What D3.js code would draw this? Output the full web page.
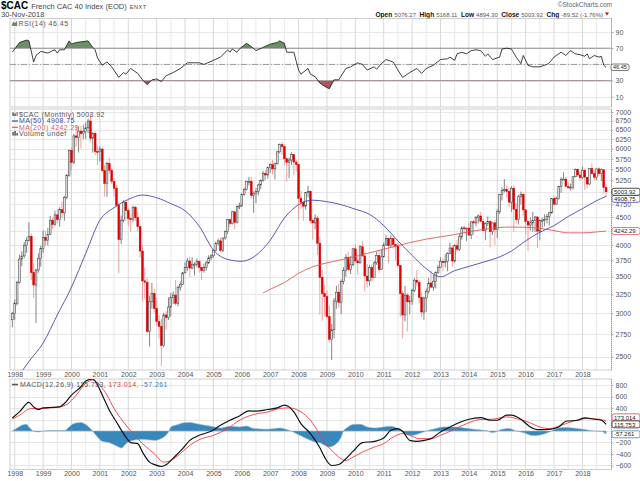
<!DOCTYPE html>
<html lang="en">
<head>
<meta charset="utf-8">
<title>$CAC French CAC 40 Index (EOD)</title>
<script src="https://cdn.jsdelivr.net/npm/d3@7/dist/d3.min.js"></script>
<style>
  body { margin: 0; background: #fff; }
  text { font-family: "Liberation Sans", Arial, sans-serif; }
  .ax .tick text { font-size: 7px; fill: #555; }
  .ax .tick line { stroke: #aaa; }
  .ax .domain { display: none; }
</style>
</head>
<body>
<svg id="chart" width="640" height="481"></svg>
<script>
// month index: 0 = Jan 1998, first bar is Dec 1997 (index -1)
var firstMonth = -1;
var firstOpen = 2920; // open of the first bar; every other bar opens at the previous close

// monthly closes, one line per year (Dec 1997, then 1998 .. Nov 2018)
var closes = [2999,
  3130,3420,3770,3820,3990,4080,4150,3560,3380,3600,3780,3943,
  4130,4080,4180,4440,4360,4540,4450,4640,4580,4890,5360,5958,
  5660,6330,6290,6460,6390,6450,6550,6740,6270,6400,5930,5926,
  5990,5470,5180,5640,5480,5230,5080,4730,4090,4440,4790,4625,
  4470,4460,4690,4490,4320,3900,3440,3420,2780,3150,3260,3064,
  2900,2840,2620,2980,2950,3080,3210,3240,3130,3350,3390,3558,
  3640,3740,3630,3690,3690,3730,3640,3590,3640,3710,3790,3821,
  3910,4030,4070,3910,4120,4230,4450,4380,4600,4400,4700,4715,
  4950,5050,5220,5230,4930,4965,5010,5150,5250,5400,5370,5542,
  5610,5510,5630,5920,6100,6050,5750,5660,5720,5850,5670,5614,
  4870,4790,4710,4990,5010,4430,4390,4480,4030,3490,3260,3218,
  2960,2690,2800,3160,3280,3140,3430,3590,3800,3610,3680,3936,
  3740,3710,3970,3820,3510,3440,3640,3490,3710,3830,3610,3805,
  4000,4110,3990,4110,4010,3980,3670,3260,2980,3240,3150,3160,
  3300,3450,3420,3210,3017,3200,3290,3410,3350,3430,3560,3641,
  3730,3720,3730,3860,3950,3740,3990,3930,4140,4300,4290,4296,
  4170,4410,4390,4490,4520,4420,4250,4380,4420,4230,4390,4273,
  4600,4950,5030,5050,5010,4790,5080,4650,4450,4900,4950,4637,
  4420,4350,4390,4430,4500,4240,4440,4440,4450,4510,4580,4862,
  4750,4860,5120,5270,5280,5120,5090,5090,5330,5500,5370,5313,
  5480,5320,5170,5520,5400,5320,5510,5400,5490,5093,5003.92];

var highs = [3020,
  3180,3440,3840,3900,4050,4130,4404,4200,3700,3620,3860,3990,
  4250,4250,4300,4520,4480,4620,4650,4690,4800,4920,5400,5975,
  6050,6380,6620,6590,6600,6640,6700,6800,6944,6430,6450,6080,
  6060,6030,5590,5680,5770,5520,5300,5150,4800,4530,4830,4800,
  4680,4500,4720,4720,4600,4330,4000,3640,3480,3230,3410,3330,
  3200,2980,2930,3010,3030,3210,3270,3290,3450,3370,3430,3570,
  3720,3790,3810,3800,3720,3780,3760,3650,3700,3740,3830,3850,
  3930,4060,4110,4130,4130,4250,4460,4470,4620,4610,4720,4780,
  4970,5090,5240,5330,5330,5010,5080,5180,5270,5460,5480,5560,
  5640,5720,5660,5940,6130,6168,6110,5770,5780,5910,5850,5720,
  5620,5020,4820,5000,5130,5030,4470,4550,4520,4140,3600,3380,
  3300,3100,2870,3200,3370,3400,3460,3640,3850,3890,3820,3950,
  4020,3780,4000,4070,3880,3690,3680,3690,3740,3890,3920,3920,
  4040,4170,4130,4170,4120,4020,4040,3680,3300,3370,3270,3230,
  3330,3480,3600,3450,3280,3220,3330,3480,3590,3530,3580,3680,
  3800,3780,3850,3880,4040,4000,4010,4080,4190,4330,4340,4300,
  4400,4420,4440,4520,4550,4600,4470,4400,4510,4440,4400,4440,
  4650,4960,5100,5280,5130,5080,5120,5140,4770,4940,5010,4980,
  4650,4440,4490,4600,4520,4520,4450,4490,4550,4560,4600,4870,
  4920,4900,5130,5320,5430,5330,5220,5180,5340,5520,5520,5440,
  5560,5500,5330,5530,5640,5480,5520,5550,5520,5500,5168.11];

var lows = [2830,
  2920,3100,3400,3660,3780,3870,4060,3450,3200,2881,3560,3650,
  3870,3980,3990,4170,4280,4330,4390,4320,4480,4430,4850,5330,
  5480,5620,6050,5900,6000,6240,6250,6400,6180,5900,5850,5600,
  5690,5430,4900,4900,5400,5170,4900,4700,3550,4020,4400,4430,
  4330,4230,4410,4420,4230,3790,3150,3180,2760,2610,3060,3010,
  2850,2700,2403,2600,2800,2920,2960,3120,3100,3090,3300,3380,
  3550,3590,3500,3610,3520,3640,3560,3450,3560,3590,3690,3750,
  3790,3900,3990,3880,3880,4090,4190,4310,4360,4270,4380,4650,
  4700,4920,5030,5140,4860,4580,4770,4930,5060,5220,5260,5290,
  5420,5380,5270,5610,5880,5850,5600,5220,5300,5600,5370,5450,
  4450,4650,4430,4640,4890,4380,4090,4270,3840,2980,2910,2960,
  2940,2650,2465,2700,3060,3070,2990,3390,3500,3580,3540,3660,
  3730,3530,3700,3810,3290,3340,3370,3430,3480,3680,3560,3600,
  3800,3990,3700,3960,3940,3750,3630,2950,2700,2900,2780,2990,
  3110,3280,3370,3130,2950,2920,3020,3260,3330,3300,3330,3540,
  3640,3580,3640,3580,3850,3650,3710,3900,3900,4090,4200,4070,
  4160,4100,4180,4330,4380,4400,4240,4080,4330,3960,4170,4000,
  4120,4560,4820,4990,4880,4690,4600,4230,4380,4360,4740,4530,
  4180,3900,4250,4230,4230,3950,4080,4300,4330,4380,4340,4560,
  4720,4750,4840,4980,5250,5110,5070,5030,5050,5320,5320,5250,
  5280,5050,5070,5150,5380,5260,5250,5340,5240,4970,4894.30];

// moving averages
var ma50Months = [0,6,12,18,24,30,36,42,48,54,60,66,72,78,84,90,96,102,108,114,120,126,132,138,144,150,156,162,168,174,180,186,192,198,204,210,216,222,228,234,240,246,250];
var ma50Values = [2250,2450,2648,2980,3350,3860,4440,4680,4845,4936,4880,4760,4620,4330,3916,3765,3735,3830,4080,4480,4740,4830,4800,4740,4650,4550,4340,4070,3830,3620,3500,3590,3655,3720,3790,3900,4070,4220,4340,4510,4660,4820,4908.75];
var ma200Months = [105,108,114,120,126,132,138,144,150,156,162,168,174,180,186,192,198,204,210,216,222,228,234,240,246,250];
var ma200Values = [3270,3320,3415,3550,3650,3710,3760,3810,3870,3930,3990,4050,4100,4140,4180,4228,4270,4305,4314,4310,4290,4250,4210,4210,4225,4242.29];

// RSI(14)
var rsiMonths = [-1,2,5,6,8,9,11,14,16,17,18,19,21,23,24,26,31,33,34,35,37,39,41,44,46,47,49,52,54,56,58,60,62,64,67,70,73,76,78,80,84,87,90,91,92,94,95,98,100,102,105,108,111,112,114,115,118,120,121,124,125,127,129,131,133,135,137,140,142,145,147,149,152,153,155,157,160,162,164,167,170,172,174,177,180,183,184,186,187,189,191,193,195,197,199,200,202,205,206,208,210,212,214,215,217,219,222,225,226,228,231,233,235,237,239,241,242,243,245,247,248,249,250];
var rsiValues = [65,77,80,79,53,61,66,64,67,68,64,68,68,79,75,77,79,71,68,58,49,53,47,34,40,38,45,39,31,25,31,32,29,36,40,45,52,52,52,50,55,59,68,65,69,65,69,76,72,67,71,75,77,79,76,65,65,43,38,45,38,35,27,23,20,31,31,45,47,52,50,43,47,44,51,56,53,43,34,40,45,39,45,49,56,57,59,55,63,65,63,67,68,67,60,63,56,59,69,70,69,59,51,61,49,47,47,50,52,59,65,61,67,63,62,60,63,57,61,59,60,49,46.45];

// MACD(12,26,9)
var macdMonths = [-1,2,6,8,10,12,15,19,21,24,28,30,33,35,37,40,43,47,49,52,54,57,59,62,64,67,71,74,78,83,87,91,95,99,102,107,111,114,116,118,121,125,129,131,134,137,140,143,147,152,156,159,162,164,167,170,173,176,180,184,188,192,197,201,204,208,210,214,218,221,226,230,233,238,241,245,248,250];
var macdValues = [227,332,497,420,374,402,409,420,479,625,770,870,905,800,625,362,157,-105,-203,-220,-367,-542,-583,-618,-588,-472,-308,-163,-75,-5,100,187,262,350,345,374,402,450,420,332,129,-45,-290,-455,-600,-583,-483,-355,-203,-180,-122,12,42,-5,-163,-180,-163,-133,-17,70,147,205,234,187,187,275,275,205,70,24,30,70,170,187,227,205,187,115.753];
var signalMonths = [-1,2,7,11,15,19,22,26,30,33,36,39,42,46,50,54,59,63,66,70,74,78,84,90,95,101,107,112,116,121,125,129,132,135,138,140,143,147,152,156,160,164,167,171,176,180,186,191,197,202,208,212,217,222,226,231,236,242,247,250];
var signalValues = [205,275,392,392,402,420,462,625,829,887,800,625,392,157,-45,-220,-395,-542,-513,-395,-250,-150,-75,42,187,287,332,392,402,332,187,-60,-250,-378,-483,-513,-455,-367,-280,-220,-105,-45,-75,-133,-133,-75,30,129,200,205,245,217,157,70,42,100,170,217,205,173.014];
var histMonths = [-1,1,3,5,6,8,10,12,16,21,23,25,28,30,33,35,37,40,44,45,47,50,54,59,63,65,66,69,71,74,78,83,87,91,95,98,101,107,112,115,117,119,122,125,127,129,131,133,135,138,139,141,143,146,149,152,156,159,162,165,168,171,174,178,181,186,190,195,200,202,206,209,212,215,219,222,226,229,232,236,241,245,248,250];
var histValues = [0,52,100,117,70,-5,-17,0,7,7,70,129,147,112,-5,-105,-180,-203,-280,-297,-220,-163,-145,-163,-105,-17,70,112,140,147,117,82,52,82,70,88,42,30,52,24,-5,-45,-105,-163,-192,-203,-250,-280,-250,-105,0,70,112,117,70,52,70,82,42,-45,-75,-45,0,42,70,70,52,24,0,-28,30,42,0,-28,-80,-70,-17,42,59,52,24,0,-5,-57.261];

// axis labels
var years = ["1998","1999","2000","2001","2002","2003","2004","2005","2006","2007","2008","2009","2010","2011","2012","2013","2014","2015","2016","2017","2018"];
var priceTicks = [2500,2750,3000,3250,3500,3750,4000,4250,4500,4750,5000,5250,5500,5750,6000,6250,6500,6750,7000];
var rsiTicks = [10,30,50,70,90];
var macdTicks = [-600,-400,-200,0,200,400,600,800];
// tick labels that sit under the value boxes
var hiddenTicks = [5000, 4250, 50, 0, 200];

var quote = {open: "5076.27", high: "5168.11", low: "4894.30", close: "5003.92", chg: "-89.52 (-1.76%)"};
var lastClose = 5003.92, lastMa50 = 4908.75, lastMa200 = 4242.29, lastRsi = 46.45;
var lastMacd = 115.753, lastSignal = 173.014, lastHist = -57.261;

var svg = d3.select("#chart");
var X0 = 10, X1 = 611.5;

var x = d3.scaleLinear().domain([-2, 252.3]).range([X0, X1]);
var yR = d3.scaleLinear().domain([-2.5, 106.6]).range([107, 18.5]);
var yP = d3.scaleLog().domain([2364, 7089]).range([370, 109]);
var yM = d3.scaleLinear().domain([-670, 905]).range([469.5, 379]);

function pairs(ms, vs) {
  return ms.map(function(m, i) { return [m, vs[i]]; });
}

// gridlines every half year, darker on the year
var gridMonths = d3.range(0, 252, 6);

function panel(id, yScale, hTicks) {
  var r = yScale.range();
  var top = r[1], bottom = r[0];
  var g = svg.append("g");
  svg.append("clipPath").attr("id", id).append("rect")
    .attr("x", X0).attr("y", top).attr("width", X1 - X0).attr("height", bottom - top);
  g.selectAll("line.h").data(hTicks).join("line").attr("class", "h")
    .attr("x1", X0).attr("x2", X1)
    .attr("y1", function(d) { return Math.round(yScale(d)) + 0.5; })
    .attr("y2", function(d) { return Math.round(yScale(d)) + 0.5; })
    .attr("stroke", "#e6e6e6").attr("stroke-width", 1);
  g.selectAll("line.v").data(gridMonths).join("line").attr("class", "v")
    .attr("x1", function(d) { return x(d); }).attr("x2", function(d) { return x(d); })
    .attr("y1", top).attr("y2", bottom)
    .attr("stroke", function(d) { return d % 12 === 0 ? "#d4d4d4" : "#e6e6e6"; })
    .attr("stroke-width", 0.9);
  g.append("rect").attr("x", X0).attr("y", top).attr("width", X1 - X0).attr("height", bottom - top)
    .attr("fill", "none").attr("stroke", "#c4c4c4").attr("stroke-width", 0.8);
  g.append("line").attr("x1", X1).attr("x2", X1).attr("y1", top).attr("y2", bottom)
    .attr("stroke", "#999").attr("stroke-dasharray", "1,1");
  // right axis
  svg.append("g").attr("class", "ax").attr("transform", "translate(" + X1 + ",0)")
    .call(d3.axisRight(yScale).tickValues(hTicks).tickSize(2).tickPadding(2)
      .tickFormat(function(d) { return hiddenTicks.indexOf(d) >= 0 ? "" : d3.format("d")(d); }));
  return g;
}

function box(y, label, color, w, fs, x0) {
  var h = fs + 1;
  svg.append("rect").attr("x", x0).attr("y", y - h / 2).attr("width", w).attr("height", h)
    .attr("rx", 2).attr("fill", "#fff").attr("stroke", color).attr("stroke-width", 0.8);
  svg.append("text").attr("x", x0 + 2).attr("y", y + fs * 0.36).attr("font-size", fs)
    .attr("fill", "#222").text(label);
}

// ---------- header ----------
var head = svg.append("text").attr("x", 1).attr("y", 9);
head.append("tspan").attr("font-size", 10).attr("font-weight", "bold").text("$CAC");
head.append("tspan").attr("font-size", 7.5).attr("fill", "#444").attr("dx", 3).text("French CAC 40 Index (EOD)");
head.append("tspan").attr("font-size", 5.5).attr("fill", "#444").attr("dx", 3).attr("letter-spacing", 0.6).text("ENXT");
svg.append("text").attr("x", 1).attr("y", 16.5).attr("font-size", 7.5).attr("fill", "#444").text("30-Nov-2018");
svg.append("text").attr("x", 612).attr("y", 7).attr("font-size", 6.5).attr("fill", "#666")
  .attr("text-anchor", "end").text("\u00A9StockCharts.com");
var q = svg.append("text").attr("x", 603).attr("y", 16.5).attr("text-anchor", "end");
[["Open", quote.open], ["High", quote.high], ["Low", quote.low], ["Close", quote.close], ["Chg", quote.chg]]
  .forEach(function(p, i) {
    q.append("tspan").attr("font-size", 6.6).attr("font-weight", "bold").attr("fill", "#111").attr("dx", i ? 3.5 : 0).text(p[0]);
    q.append("tspan").attr("font-size", 6).attr("fill", "#555").attr("dx", 2).text(p[1]);
  });
svg.append("path").attr("d", "M605,12.5 L609,12.5 L607,15.5 Z").attr("fill", "#d00");

// ---------- RSI panel ----------
panel("clipRsi", yR, rsiTicks);
svg.append("line").attr("x1", X0).attr("x2", X1).attr("y1", yR(70)).attr("y2", yR(70)).attr("stroke", "#999");
svg.append("line").attr("x1", X0).attr("x2", X1).attr("y1", yR(30)).attr("y2", yR(30)).attr("stroke", "#999");
svg.append("line").attr("x1", X0).attr("x2", X1).attr("y1", yR(50)).attr("y2", yR(50))
  .attr("stroke", "#999").attr("stroke-dasharray", "6,2,1,2");

var rsiData = pairs(rsiMonths, rsiValues);
svg.append("clipPath").attr("id", "clipHi").append("rect")
  .attr("x", X0).attr("y", 18.5).attr("width", X1 - X0).attr("height", yR(70) - 18.5);
svg.append("clipPath").attr("id", "clipLo").append("rect")
  .attr("x", X0).attr("y", yR(30)).attr("width", X1 - X0).attr("height", 107 - yR(30));
svg.append("path").datum(rsiData).attr("clip-path", "url(#clipHi)")
  .attr("fill", "#6a9163")
  .attr("d", d3.area().x(function(d) { return x(d[0]); }).y0(yR(70)).y1(function(d) { return yR(d[1]); }));
svg.append("path").datum(rsiData).attr("clip-path", "url(#clipLo)")
  .attr("fill", "#a8585c")
  .attr("d", d3.area().x(function(d) { return x(d[0]); }).y0(yR(30)).y1(function(d) { return yR(d[1]); }));
svg.append("path").datum(rsiData).attr("clip-path", "url(#clipRsi)")
  .attr("fill", "none").attr("stroke", "#111").attr("stroke-width", 0.8)
  .attr("d", d3.line().x(function(d) { return x(d[0]); }).y(function(d) { return yR(d[1]); }));

svg.append("path").attr("d", "M12,25.5 L13.5,22 L15,24 L16.5,21.5 L17,25.5 Z").attr("fill", "#6a9163").attr("stroke", "#333").attr("stroke-width", 0.4);
svg.append("text").attr("x", 18.5).attr("y", 25.5).attr("font-size", 7).attr("fill", "#555")
  .attr("letter-spacing", 0.5).text("RSI(14) " + lastRsi);

// ---------- price panel ----------
panel("clipMain", yP, priceTicks);

var bars = closes.map(function(c, i) {
  return { m: firstMonth + i, o: i ? closes[i - 1] : firstOpen, h: highs[i], l: lows[i], c: c };
});
var gMain = svg.append("g").attr("clip-path", "url(#clipMain)");

gMain.selectAll("line.wick").data(bars).join("line").attr("class", "wick")
  .attr("x1", function(d) { return x(d.m); }).attr("x2", function(d) { return x(d.m); })
  .attr("y1", function(d) { return yP(d.h); }).attr("y2", function(d) { return yP(d.l); })
  .attr("stroke", function(d) { return d.c >= d.o ? "#666" : "#ee8a8a"; })
  .attr("stroke-width", 0.8);
gMain.selectAll("rect.body").data(bars).join("rect").attr("class", "body")
  .attr("x", function(d) { return x(d.m) - 0.9; })
  .attr("width", 1.8)
  .attr("y", function(d) { return yP(Math.max(d.o, d.c)); })
  .attr("height", function(d) { return Math.max(1, Math.abs(yP(d.o) - yP(d.c))); })
  .attr("fill", function(d) { return d.c >= d.o ? "#e4e4e4" : "#dd0000"; })
  .attr("stroke", function(d) { return d.c >= d.o ? "#333" : "#dd0000"; })
  .attr("stroke-width", 0.5);

var maLine = d3.line().curve(d3.curveMonotoneX)
  .x(function(d) { return x(d[0]); }).y(function(d) { return yP(d[1]); });
gMain.append("path").datum(pairs(ma200Months, ma200Values)).attr("d", maLine)
  .attr("fill", "none").attr("stroke", "#e05a5a").attr("stroke-width", 0.9);
gMain.append("path").datum(pairs(ma50Months, ma50Values)).attr("d", maLine)
  .attr("fill", "none").attr("stroke", "#4848a8").attr("stroke-width", 0.9);

// legend
var leg = [
  ["$CAC (Monthly) " + lastClose, "#555"],
  ["MA(50) " + lastMa50, "#4848a8"],
  ["MA(200) " + lastMa200, "#e05a5a"],
  ["Volume undef", "#555"]
];
leg.forEach(function(l, i) {
  var yy = 117 + i * 6.3;
  svg.append("text").attr("x", 19).attr("y", yy).attr("font-size", 7).attr("fill", l[1])
    .attr("letter-spacing", 0.4).text(l[0]);
});
svg.append("rect").attr("x", 12.5).attr("y", 112.5).attr("width", 1.2).attr("height", 3.5).attr("fill", "#333");
svg.append("rect").attr("x", 14.5).attr("y", 113.5).attr("width", 1.2).attr("height", 2.5).attr("fill", "#333");
svg.append("rect").attr("x", 16.5).attr("y", 112).attr("width", 1.2).attr("height", 4).attr("fill", "#777");
svg.append("line").attr("x1", 12).attr("x2", 18).attr("y1", 121).attr("y2", 121).attr("stroke", "#4848a8").attr("stroke-width", 1.2);
svg.append("line").attr("x1", 12).attr("x2", 18).attr("y1", 127.3).attr("y2", 127.3).attr("stroke", "#e05a5a").attr("stroke-width", 1.2);
svg.append("rect").attr("x", 12.5).attr("y", 132).attr("width", 1.2).attr("height", 3.6).attr("fill", "#333");
svg.append("rect").attr("x", 14.5).attr("y", 131).attr("width", 1.2).attr("height", 4.6).attr("fill", "#333");
svg.append("rect").attr("x", 16.5).attr("y", 133).attr("width", 1.2).attr("height", 2.6).attr("fill", "#333");

// year labels (between price and MACD, and at the bottom)
var yearMonths = years.map(function(y, i) { return i * 12; });
[378, 477.5].forEach(function(yy) {
  svg.append("g").attr("class", "ax").attr("transform", "translate(0," + (yy - 7) + ")")
    .call(d3.axisBottom(x).tickValues(yearMonths).tickSize(0).tickPadding(1)
      .tickFormat(function(d, i) { return years[i]; }));
});

// ---------- MACD panel ----------
panel("clipMacd", yM, macdTicks);
var gM = svg.append("g").attr("clip-path", "url(#clipMacd)");
gM.append("path").datum(pairs(histMonths, histValues))
  .attr("fill", "#3789bd").attr("stroke", "#9fb4c4").attr("stroke-width", 0.6)
  .attr("d", d3.area().curve(d3.curveMonotoneX)
    .x(function(d) { return x(d[0]); }).y0(yM(0)).y1(function(d) { return yM(d[1]); }));
var mLine = d3.line().curve(d3.curveMonotoneX)
  .x(function(d) { return x(d[0]); }).y(function(d) { return yM(d[1]); });
gM.append("path").datum(pairs(signalMonths, signalValues)).attr("d", mLine)
  .attr("fill", "none").attr("stroke", "#f03c3c").attr("stroke-width", 0.9);
gM.append("path").datum(pairs(macdMonths, macdValues)).attr("d", mLine)
  .attr("fill", "none").attr("stroke", "#111").attr("stroke-width", 1.2);

svg.append("line").attr("x1", 12).attr("x2", 18).attr("y1", 384.5).attr("y2", 384.5).attr("stroke", "#555").attr("stroke-width", 1.5);
var ml = svg.append("text").attr("x", 20).attr("y", 387).attr("font-size", 7).attr("letter-spacing", 0.4);
ml.append("tspan").attr("fill", "#555").text("MACD(12,26,9) " + lastMacd + ", ");
ml.append("tspan").attr("fill", "#e04040").text(lastSignal + ", ");
ml.append("tspan").attr("fill", "#3b82b0").text(lastHist);

// ---------- value boxes on the right (stacked so they do not cover each other) ----------
var bh = 7;
box(yR(lastRsi), String(lastRsi), "#555", 18, 5.5, 611);
box(yP(lastMa200), String(lastMa200), "#e05a5a", 28, 6, 612);
var yClose = yP(lastClose);
box(Math.max(yP(lastMa50), yClose + bh), String(lastMa50), "#4848a8", 28, 6, 612);
box(yClose, String(lastClose), "#222", 28, 6, 612);
var yMacd = yM(lastMacd);
box(Math.min(yM(lastSignal), yMacd - bh), String(lastSignal), "#e04040", 28, 6, 612);
box(yMacd, String(lastMacd), "#222", 28, 6, 612);
box(Math.max(yM(lastHist), yMacd + bh), String(lastHist), "#3b82b0", 28, 6, 612);
</script>
</body>
</html>
